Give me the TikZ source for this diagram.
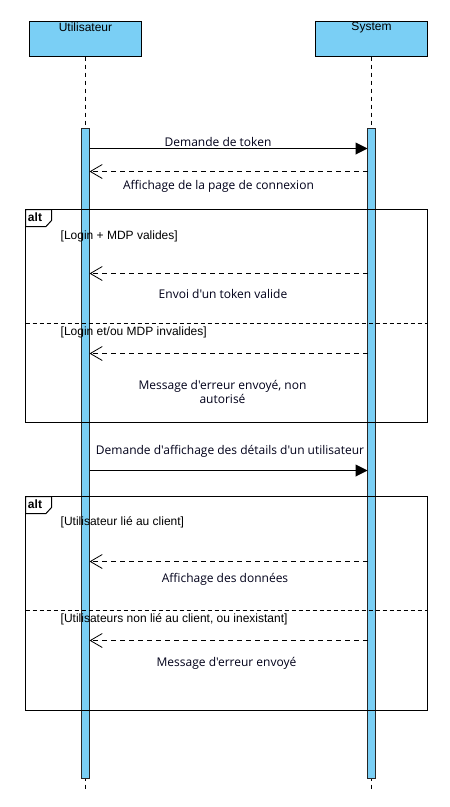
\documentclass[tikz,border=0pt]{standalone}
\usepackage{fontspec}
\setmainfont{Liberation Sans}
\newfontfamily\msgfont{Open Sans}
\usetikzlibrary{arrows.meta}
\definecolor{actblue}{HTML}{7ACFF5}
\tikzset{
  x=1pt, y=-1pt,
  headbox/.style={draw=black, line width=1pt, fill=actblue, minimum width=112pt, minimum height=35pt, inner sep=0pt},
  lifeline/.style={draw=black, line width=0.8pt, dash pattern=on 4pt off 4pt},
  actbar/.style={draw=black!85, line width=1pt, fill=actblue},
  frame/.style={draw=black, line width=1pt},
  divider/.style={draw=black, line width=0.8pt, dash pattern=on 4pt off 3pt},
  callmsg/.style={draw=black, line width=1pt, -{Triangle[length=12pt, width=12pt]}},
  retmsg/.style={draw=black, line width=0.8pt, dash pattern=on 5pt off 4pt, -{Straight Barb[length=12pt, width=14pt, line width=0.8pt]}},
  msglabel/.style={font=\msgfont\fontsize{12}{14}\selectfont, text=black!90!blue, align=center, inner sep=0pt},
  guard/.style={font=\fontsize{12}{14}\selectfont, anchor=west, inner sep=0pt, text=black},
  headlabel/.style={font=\fontsize{12}{14}\selectfont, inner sep=0pt},
}
\begin{document}
\begin{tikzpicture}
\useasboundingbox (0,0) rectangle (450,807);
% headers
\node[headbox] (user) at (85.5,38.5) {};
\node[headbox] (sys) at (371.5,38.5) {};
\node[headlabel] (userlbl) at (85.5,27.5) {Utilisateur};
\node[headlabel] (syslbl) at (371.5,27.5) {System};
% lifelines
\coordinate (ubot) at (85.5,792);
\coordinate (sbot) at (371.5,792);
\draw[lifeline] (user.south) -- (ubot);
\draw[lifeline] (sys.south) -- (sbot);
% activation bars
\node[actbar, minimum width=8pt, minimum height=650pt, inner sep=0pt, anchor=north] (uact) at (85.5,128) {};
\node[actbar, minimum width=8pt, minimum height=650pt, inner sep=0pt, anchor=north] (sact) at (371.5,128) {};
% message 1
\coordinate (u1) at (89.5,148.5); \coordinate (s1) at (367.5,148.5);
\draw[callmsg] (u1) -- (s1);
\node[msglabel] (m1) at (218,141.5) {Demande de token};
\coordinate (u2) at (89.5,171.5); \coordinate (s2) at (367.5,171.5);
\draw[retmsg] (s2) -- (u2);
\node[msglabel] (m2) at (218.5,186) {Affichage de la page de connexion};
% alt frame 1
\draw[frame] (25.5,209.5) rectangle (427.5,422.5);
\draw[frame, fill=white] (25.5,209.5) -- (51.5,209.5) -- (51.5,220.5) -- (46,226.5) -- (25.5,226.5) -- cycle;
\node[font=\bfseries\fontsize{12}{14}\selectfont, inner sep=0pt] (alt1) at (35,217.5) {alt};
\node[guard] (g1) at (60.5,236) {[Login + MDP valides]};
\coordinate (u3) at (89.5,273.5); \coordinate (s3) at (367.5,273.5);
\draw[retmsg] (s3) -- (u3);
\node[msglabel] (m3) at (223,293.5) {Envoi d'un token valide};
\draw[divider] (25.5,323.5) -- (427.5,323.5);
\node[guard] (g2) at (60.5,332.5) {[Login et/ou MDP invalides]};
\coordinate (u4) at (89.5,353.5); \coordinate (s4) at (367.5,353.5);
\draw[retmsg] (s4) -- (u4);
\node[msglabel] (m4) at (222.5,391.5) {Message d'erreur envoyé, non\\autorisé};
% message 2
\coordinate (u5) at (89.5,470.5); \coordinate (s5) at (367.5,470.5);
\draw[callmsg] (u5) -- (s5);
\node[msglabel] (m5) at (230,451) {Demande d'affichage des détails d'un utilisateur};
% alt frame 2
\draw[frame] (25.5,496.5) rectangle (427.5,710.5);
\draw[frame, fill=white] (25.5,496.5) -- (51.5,496.5) -- (51.5,507.5) -- (46,513.5) -- (25.5,513.5) -- cycle;
\node[font=\bfseries\fontsize{12}{14}\selectfont, inner sep=0pt] (alt2) at (35,504.5) {alt};
\node[guard] (g3) at (60.5,522) {[Utilisateur lié au client]};
\coordinate (u6) at (89.5,561.5); \coordinate (s6) at (367.5,561.5);
\draw[retmsg] (s6) -- (u6);
\node[msglabel] (m6) at (225,579.5) {Affichage des données};
\draw[divider] (25.5,610.5) -- (427.5,610.5);
\node[guard] (g4) at (60.5,619.5) {[Utilisateurs non lié au client, ou inexistant]};
\coordinate (u7) at (89.5,640.5); \coordinate (s7) at (367.5,640.5);
\draw[retmsg] (s7) -- (u7);
\node[msglabel] (m7) at (226.5,663) {Message d'erreur envoyé};
\end{tikzpicture}
\end{document}
